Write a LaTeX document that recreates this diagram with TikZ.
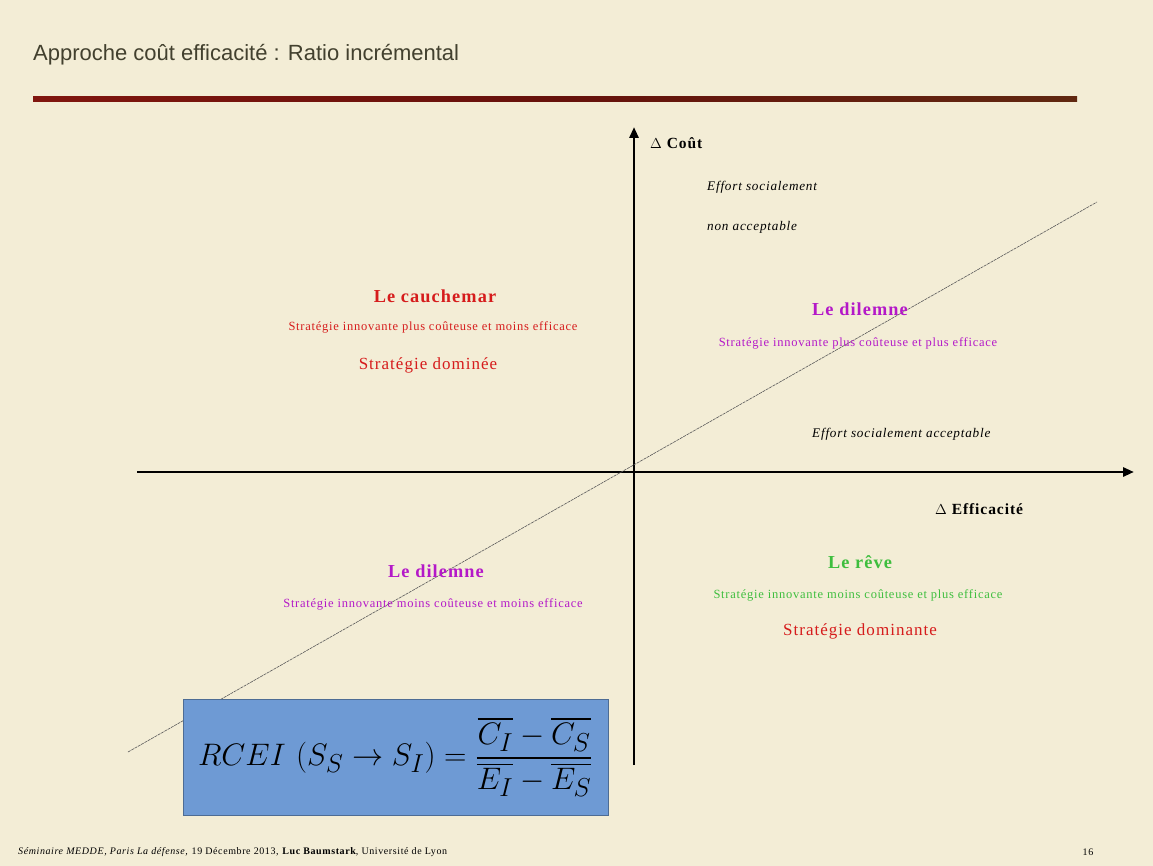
\documentclass[tikz,border=0pt]{standalone}
\usepackage{amsmath}
\usepackage{fontspec}
\setmainfont{Liberation Serif}
\newfontfamily\slidefont[LetterSpace=6]{Liberation Serif}
\newfontfamily\titlefont{Liberation Sans}
\usetikzlibrary{arrows.meta}
\definecolor{parchin}{RGB}{243,237,214}
\definecolor{parchout}{RGB}{226,211,168}
\definecolor{titlegray}{RGB}{66,64,46}
\definecolor{barred}{RGB}{128,22,14}
\definecolor{barbrown}{RGB}{96,40,16}
\definecolor{cauchred}{RGB}{214,28,28}
\definecolor{dilemmag}{RGB}{180,24,200}
\definecolor{revegreen}{RGB}{62,190,62}
\definecolor{boxblue}{RGB}{110,154,212}
\pgfdeclareradialshading{parchshade}{\pgfpointorigin}{color(0bp)=(parchin); color(36bp)=(parchin); color(72bp)=(parchout)}
\tikzset{
    axis/.style={draw=black, line width=2.8pt, -{Triangle[length=11pt, width=9pt]}},
    ratioline/.style={draw=black!65, line width=0.6pt, dash pattern=on 3pt off 0.8pt},
    axislabel/.style={font=\slidefont\fontsize{15.5}{18}\selectfont\bfseries, inner sep=0pt},
    effort/.style={font=\slidefont\fontsize{13.2}{16}\selectfont\itshape, inner sep=0pt},
    quadtitle/.style={font=\slidefont\fontsize{18.3}{21}\selectfont\bfseries, inner sep=0pt},
    quaddesc/.style={font=\slidefont\fontsize{12.5}{14}\selectfont, inner sep=0pt},
    verdict/.style={font=\slidefont\fontsize{17}{20}\selectfont, inner sep=0pt, text=cauchred},
    footer/.style={font=\slidefont\fontsize{10}{12}\selectfont, inner sep=0pt}
}

\begin{document}
\begin{tikzpicture}[x=1pt, y=-1pt]
% Slide background
\shade[shading=parchshade] (0,0) rectangle (1153,866);
\useasboundingbox (0,0) rectangle (1153,866);

% Title and bar
\node[anchor=west, inner sep=0pt, text=titlegray, font=\titlefont\fontsize{22}{26}\selectfont] (title) at (33,55) {Approche coût efficacité : Ratio incrémental};
\shade[left color=barred, right color=barbrown, middle color=barred!80!black] (33,97) rectangle (1077,102);

% Axes
\coordinate (o) at (634,472);
\coordinate (ybot) at (634,765);
\coordinate (ytop) at (634,127);
\coordinate (xleft) at (137,472);
\coordinate (xright) at (1134,472);
\draw[axis] (ybot) -- (ytop);
\draw[axis] (xleft) -- (xright);

% Ratio line
\coordinate (rl) at (128,752);
\coordinate (rr) at (1097,202);
\draw[ratioline] (rl) -- (rr);

% Axis labels
\node[axislabel, anchor=west] (cout) at (650,143) {$\Delta$ Coût};
\node[axislabel, anchor=west] (efficacite) at (935,509) {$\Delta$ Efficacité};

% Effort labels
\node[effort, anchor=west] (effortsoc) at (707,187) {Effort socialement};
\node[effort, anchor=west] (effortnon) at (707,227) {non acceptable};
\node[effort, anchor=west] (effortok) at (812,434) {Effort socialement acceptable};

% Upper left quadrant
\node[quadtitle, text=cauchred] (cauchemar) at (435,296) {Le cauchemar};
\node[quaddesc, text=cauchred] (cauchemardesc) at (433,327) {Stratégie innovante plus coûteuse et moins efficace};
\node[verdict] (domine) at (428,365) {Stratégie dominée};

% Upper right quadrant
\node[quadtitle, text=dilemmag] (dilemnehaut) at (860,309) {Le dilemne};
\node[quaddesc, text=dilemmag] (dilemnehautdesc) at (858,343) {Stratégie innovante plus coûteuse et plus efficace};

% Lower left quadrant
\node[quadtitle, text=dilemmag] (dilemnebas) at (436,571) {Le dilemne};
\node[quaddesc, text=dilemmag] (dilemnebasdesc) at (433,604) {Stratégie innovante moins coûteuse et moins efficace};

% Lower right quadrant
\node[quadtitle, text=revegreen] (reve) at (860,562) {Le rêve};
\node[quaddesc, text=revegreen] (revedesc) at (858,595) {Stratégie innovante moins coûteuse et plus efficace};
\node[verdict] (dominante) at (860,631) {Stratégie dominante};

% Formula box
\fill[boxblue] (183,699) rectangle (608,815);
\draw[boxblue!70!black, line width=0.5pt] (183,699) rectangle (608,815);
\node[inner sep=0pt, scale=1.25, font=\fontsize{24.88}{30}\selectfont] (rcei) at (395.5,757) {$\displaystyle RCEI\,\left(S_S\to S_I\right)=\frac{\overline{C_I}-\overline{C_S}}{\overline{E_I}-\overline{E_S}}$};

% Footer
\node[footer, anchor=west] (seminaire) at (18,852) {\textit{Séminaire MEDDE, Paris La défense,} 19 Décembre 2013, \textbf{Luc Baumstark}, Université de Lyon};
\node[footer] (pagenum) at (1088,852) {16};
\end{tikzpicture}
\end{document}
